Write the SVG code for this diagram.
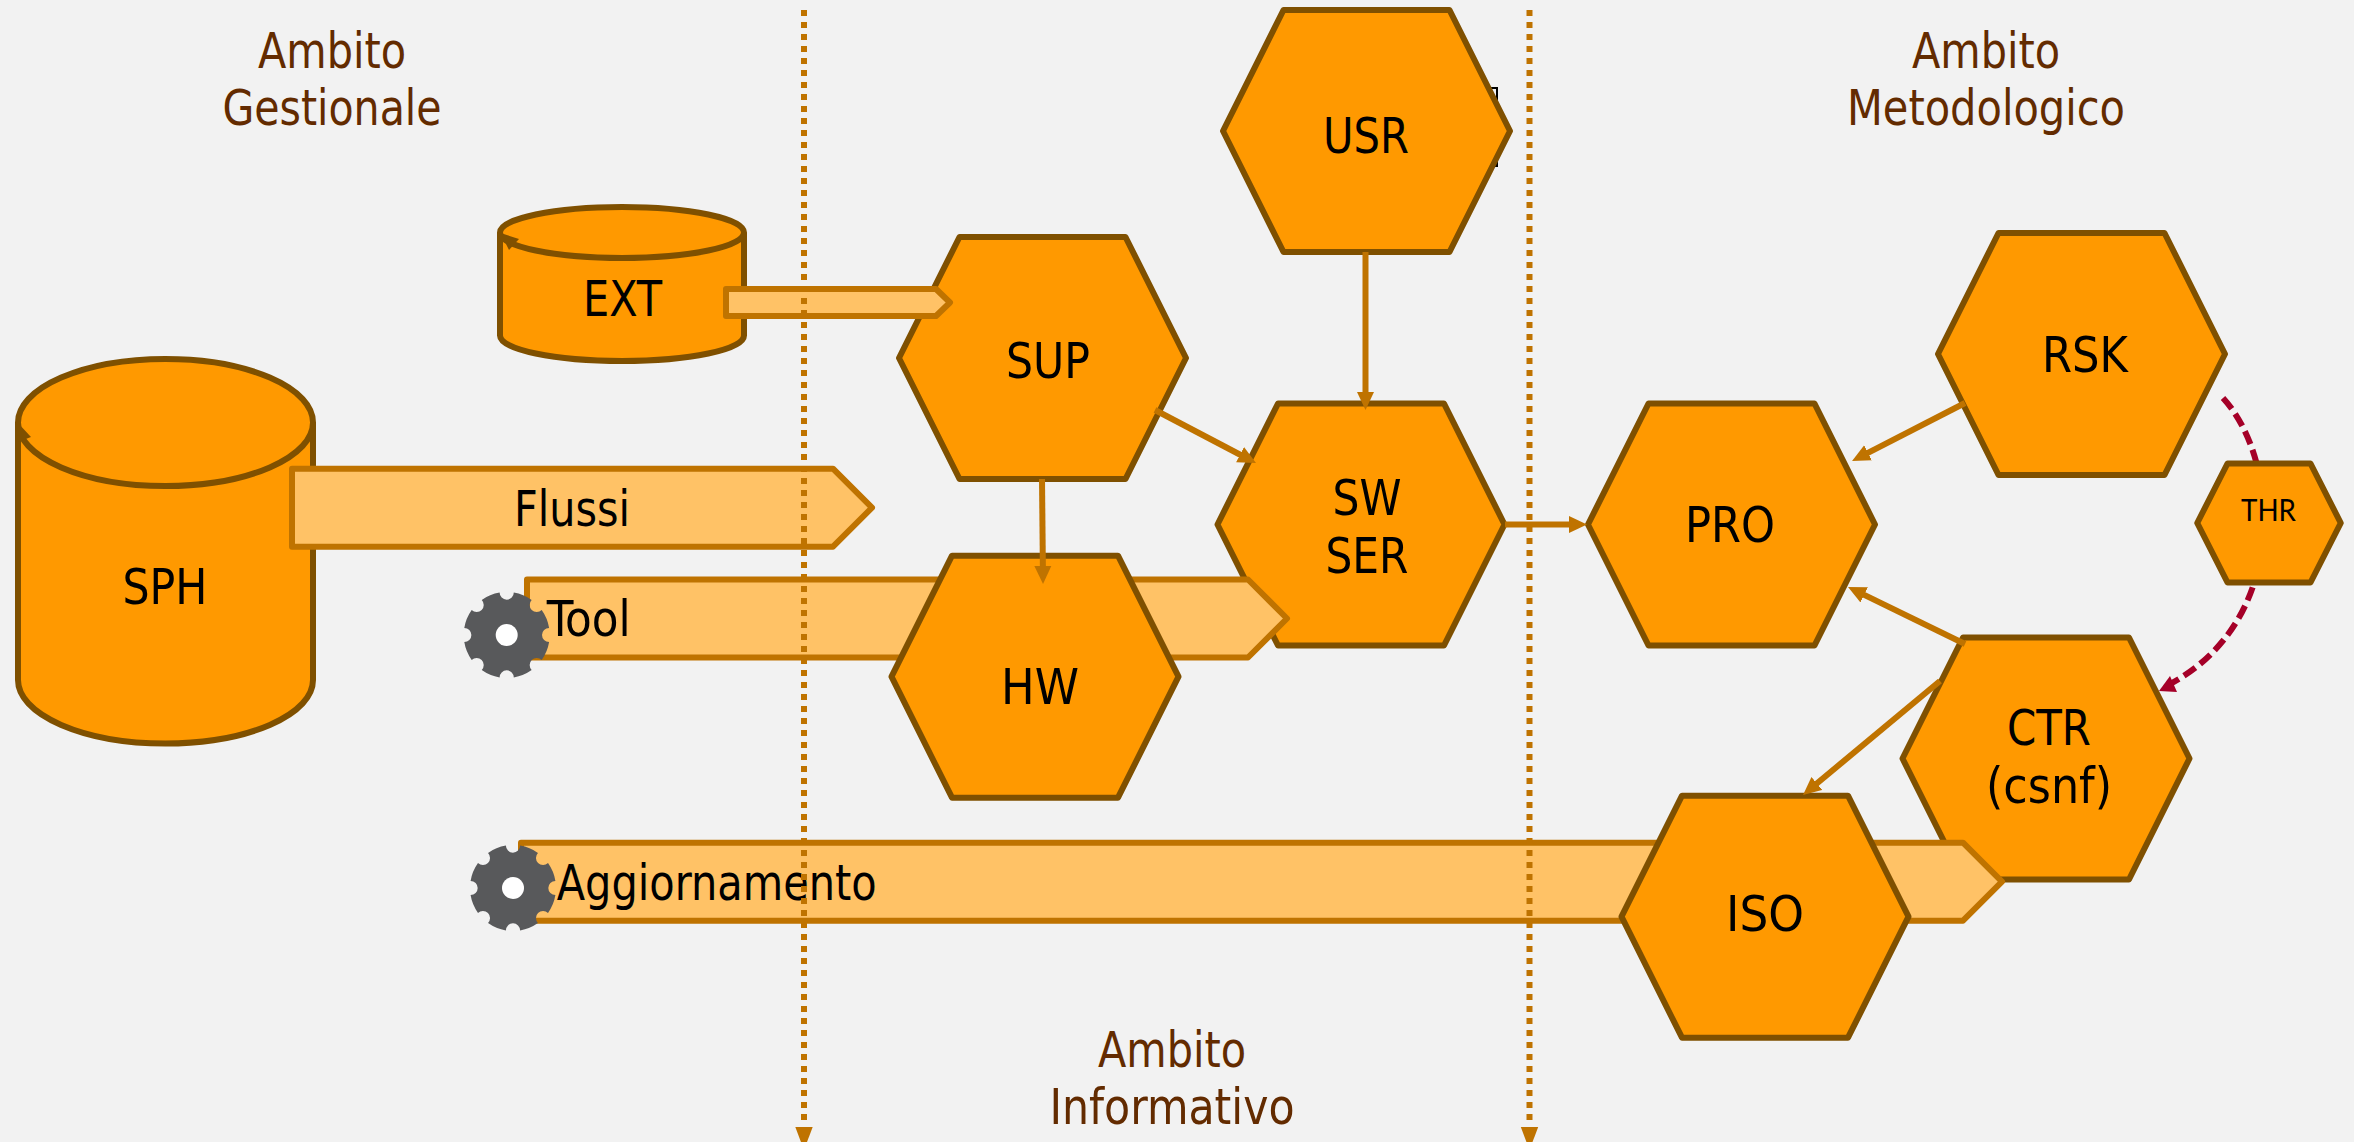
<svg xmlns="http://www.w3.org/2000/svg" width="2354" height="1142" viewBox="0 0 2354 1142">
<style>
.shape{fill:#FF9900;stroke:#7F5000;stroke-width:6;stroke-linejoin:round}
.band{fill:#FFC266;stroke:#BF7300;stroke-width:6;stroke-linejoin:round}
.t{font-family:"DejaVu Sans Condensed","DejaVu Sans",sans-serif;font-size:49px;fill:#000;text-anchor:middle}
.scope{fill:#632B00}
.thr{font-family:Lato,sans-serif;font-size:30px}
.conn{fill:none;stroke:#BF7300;stroke-width:6}
.dot{fill:none;stroke:#BF7300;stroke-width:6;stroke-dasharray:6 6}
.threat{fill:none;stroke:#A50028;stroke-width:6;stroke-dasharray:14 6}
.gear{fill:#58595B}
.hole{fill:#fff}
</style>
<defs>
<polygon id="hex" points="-143.5,0 -83,-121 83,-121 143.5,0 83,121 -83,121"/>
<marker id="ah" markerUnits="userSpaceOnUse" markerWidth="20" markerHeight="20" refX="4" refY="9" orient="auto"><path d="M0,0.5 L18,9 L0,17.500 Z" fill="#BF7300"/></marker>
<g id="gearshape">
<path class="gear" d="M42.41,7.10 A43,43 0 0 1 35.01,24.97 A7.1,7.1 0 0 0 24.97,35.01 A43,43 0 0 1 7.10,42.41 A7.1,7.1 0 0 0 -7.10,42.41 A43,43 0 0 1 -24.97,35.01 A7.1,7.1 0 0 0 -35.01,24.97 A43,43 0 0 1 -42.41,7.10 A7.1,7.1 0 0 0 -42.41,-7.10 A43,43 0 0 1 -35.01,-24.97 A7.1,7.1 0 0 0 -24.97,-35.01 A43,43 0 0 1 -7.10,-42.41 A7.1,7.1 0 0 0 7.10,-42.41 A43,43 0 0 1 24.97,-35.01 A7.1,7.1 0 0 0 35.01,-24.97 A43,43 0 0 1 42.41,-7.10 A7.1,7.1 0 0 0 42.41,7.10 Z"/>
<circle class="hole" r="11"/>
</g>
</defs>
<rect width="2354" height="1142" fill="#F2F2F2"/>

<g id="scope-gestionale">
<text class="t scope" x="332" y="68" textLength="148" lengthAdjust="spacingAndGlyphs">Ambito</text>
<text class="t scope" x="332" y="125" textLength="219" lengthAdjust="spacingAndGlyphs">Gestionale</text>
</g>
<g id="scope-metodologico">
<text class="t scope" x="1986" y="68" textLength="148" lengthAdjust="spacingAndGlyphs">Ambito</text>
<text class="t scope" x="1986" y="125" textLength="278" lengthAdjust="spacingAndGlyphs">Metodologico</text>
</g>
<g id="scope-informativo">
<text class="t scope" x="1172" y="1067" textLength="148" lengthAdjust="spacingAndGlyphs">Ambito</text>
<text class="t scope" x="1172" y="1124" textLength="245" lengthAdjust="spacingAndGlyphs">Informativo</text>
</g>

<g id="SPH">
<path class="shape" d="M18,422 V680 A147.5,63.5 0 0 0 313,680 V422"/>
<ellipse class="shape" cx="165.500" cy="422.500" rx="147.500" ry="63.500"/>
<path d="M18,423 L31,437 L18,442 Z" fill="#7F5000"/>
<text class="t" x="165" y="604" textLength="85" lengthAdjust="spacingAndGlyphs">SPH</text>
</g>
<g id="Flussi">
<polygon class="band" points="292,468.700 833,468.700 872,507.700 833,546.700 292,546.700"/>
<text class="t" x="572" y="526" textLength="116" lengthAdjust="spacingAndGlyphs">Flussi</text>
</g>
<g id="SUP">
<use href="#hex" class="shape" x="1042.500" y="358"/>
<text class="t" x="1048" y="378" textLength="84" lengthAdjust="spacingAndGlyphs">SUP</text>
</g>
<g id="EXT">
<path class="shape" d="M500,232.500 V335.500 A122,25.500 0 0 0 744,335.500 V232.500"/>
<ellipse class="shape" cx="622" cy="232.500" rx="122" ry="25.500"/>
<path d="M500.500,233 L519,239 L509,250 Z" fill="#7F5000"/>
<text class="t" x="622.500" y="316" textLength="79" lengthAdjust="spacingAndGlyphs">EXT</text>
</g>
<g id="ExtFlow">
<polygon class="band" points="726,289 936,289 950,302.500 936,316 726,316"/>
</g>
<rect id="USR-box" x="1470" y="88" width="27" height="78" fill="#F2F2F2" stroke="#000" stroke-width="2"/>
<g id="USR">
<use href="#hex" class="shape" x="1366.500" y="131"/>
<text class="t" x="1366" y="153" textLength="86" lengthAdjust="spacingAndGlyphs">USR</text>
</g>
<g id="SWSER">
<use href="#hex" class="shape" x="1361" y="524.500"/>
<text class="t" x="1367" y="515" textLength="69" lengthAdjust="spacingAndGlyphs">SW</text>
<text class="t" x="1367" y="573" textLength="83" lengthAdjust="spacingAndGlyphs">SER</text>
</g>
<g id="Tool">
<polygon class="band" points="527,579.500 1248,579.500 1287,618.500 1248,657.500 527,657.500"/>
<use href="#gearshape" x="506.700" y="635"/>
<text class="t" x="588.700" y="636" textLength="84" lengthAdjust="spacingAndGlyphs">Tool</text>
</g>
<g id="HW">
<use href="#hex" class="shape" x="1035" y="676.700"/>
<text class="t" x="1040" y="704" textLength="78" lengthAdjust="spacingAndGlyphs">HW</text>
</g>
<g id="PRO">
<use href="#hex" class="shape" x="1731.500" y="524.500"/>
<text class="t" x="1730" y="542" textLength="90" lengthAdjust="spacingAndGlyphs">PRO</text>
</g>
<g id="RSK">
<use href="#hex" class="shape" x="2081.500" y="354"/>
<text class="t" x="2085" y="372" textLength="86" lengthAdjust="spacingAndGlyphs">RSK</text>
</g>
<g id="CTR">
<use href="#hex" class="shape" x="2046" y="758.500"/>
<text class="t" x="2049" y="744.500" textLength="84" lengthAdjust="spacingAndGlyphs">CTR</text>
<text class="t" x="2049" y="803" textLength="126" lengthAdjust="spacingAndGlyphs">(csnf)</text>
</g>
<g id="Aggiornamento">
<polygon class="band" points="521,842.700 1963,842.700 2002,881.700 1963,920.700 521,920.700"/>
<use href="#gearshape" x="513" y="888"/>
<text class="t" x="716.700" y="900" textLength="320" lengthAdjust="spacingAndGlyphs">Aggiornamento</text>
</g>
<g id="ISO">
<use href="#hex" class="shape" x="1765" y="916.700"/>
<text class="t" x="1765" y="931" textLength="78" lengthAdjust="spacingAndGlyphs">ISO</text>
</g>

<g id="connectors">
<line class="dot" x1="804" y1="10" x2="804" y2="1122"/>
<path d="M795.300,1127 H812.700 L804,1150 Z" fill="#BF7300"/>
<line class="dot" x1="1529.500" y1="10" x2="1529.500" y2="1122"/>
<path d="M1520.800,1127 H1538.200 L1529.500,1150 Z" fill="#BF7300"/>
<line class="conn" x1="1365.500" y1="252" x2="1365.500" y2="396" marker-end="url(#ah)"/>
<line class="conn" x1="1155" y1="410" x2="1243.600" y2="456.500" marker-end="url(#ah)"/>
<line class="conn" x1="1042" y1="479" x2="1042.900" y2="570" marker-end="url(#ah)"/>
<line class="conn" x1="1505" y1="524.500" x2="1573" y2="524.500" marker-end="url(#ah)"/>
<line class="conn" x1="1965" y1="403" x2="1864.500" y2="454.600" marker-end="url(#ah)"/>
<line class="conn" x1="1965" y1="644" x2="1860.600" y2="593.100" marker-end="url(#ah)"/>
<line class="conn" x1="1940" y1="681" x2="1813.800" y2="786" marker-end="url(#ah)"/>
<path class="threat" d="M2223,398 C2280,460 2290,620 2170,684"/>
<path d="M2159,691 L2170,676 L2177,692 Z" fill="#A50028"/>
</g>

<g id="THR">
<use href="#hex" class="shape" transform="translate(2269 523) scale(0.5 0.492)" style="stroke-width:12"/>
<text class="t thr" x="2268.500" y="520.700" textLength="55" lengthAdjust="spacingAndGlyphs">THR</text>
</g>
</svg>
